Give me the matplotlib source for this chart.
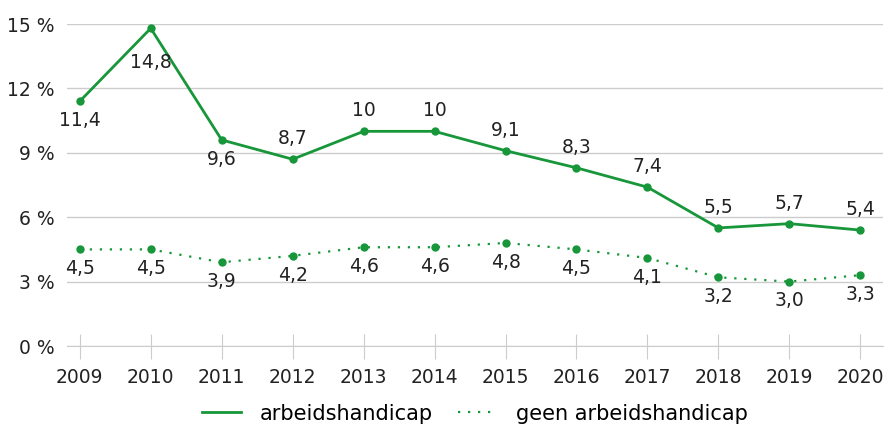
import numpy as np
import matplotlib
matplotlib.use("Agg")
from matplotlib import pyplot as plt

# data
jaren = [2009, 2010, 2011, 2012, 2013, 2014, 2015, 2016, 2017, 2018, 2019, 2020]
met_handicap = [11.4, 14.8, 9.6, 8.7, 10, 10, 9.1, 8.3, 7.4, 5.5, 5.7, 5.4]
geen_handicap = [4.5, 4.5, 3.9, 4.2, 4.6, 4.6, 4.8, 4.5, 4.1, 3.2, 3.0, 3.3]
label_boven = [False, False, False, True, True, True, True, True, True, True, True, True]
y_ticks = [0, 3, 6, 9, 12, 15]

groen = '#17963a'
tekst = '#222222'
fs = 13.5
plt.rcParams['font.family'] = ['DejaVu Sans']

fig = plt.figure(figsize=(8.84, 4.25), dpi=100)
ax = fig.add_axes([67 / 884, 79 / 425, 816 / 884, 322 / 425])

ax.plot(jaren, met_handicap, color=groen, lw=2, marker='o', ms=5,
        label='arbeidshandicap', clip_on=False)
ax.plot(jaren, geen_handicap, color=groen, lw=1.6, ls=(0, (1, 3.5)), marker='o', ms=5,
        label='geen arbeidshandicap', clip_on=False)


def fmt(v):
    s = ('%.1f' % v).replace('.', ',')
    if s.endswith(',0') and v >= 10:
        s = s[:-2]
    return s


for i, (x, y, boven) in enumerate(zip(jaren, met_handicap, label_boven)):
    if boven:
        ax.annotate(fmt(y), (x, y), xytext=(0, 8), textcoords='offset points',
                    ha='center', va='bottom', fontsize=fs, color=tekst)
    else:
        dy = -18 if i == 1 else -7  # 14,8 staat lager, naast de lijn
        ax.annotate(fmt(y), (x, y), xytext=(0, dy), textcoords='offset points',
                    ha='center', va='top', fontsize=fs, color=tekst)

for x, y in zip(jaren, geen_handicap):
    ax.annotate(fmt(y), (x, y), xytext=(0, -7), textcoords='offset points',
                ha='center', va='top', fontsize=fs, color=tekst)

ax.set_xlim(2008.82, 2020.32)
ax.set_ylim(0, 15)
ax.set_yticks(y_ticks)
ax.set_yticklabels(['%d %%' % t for t in y_ticks])
ax.set_xticks(jaren)
ax.set_xticklabels([str(j) for j in jaren])
ax.grid(axis='y', color='#cccccc', lw=1)
ax.set_axisbelow(True)
for s in ['top', 'right', 'left']:
    ax.spines[s].set_visible(False)
ax.spines['bottom'].set_color('#cccccc')
ax.tick_params(axis='y', length=0, labelsize=fs, colors=tekst, pad=9)
ax.tick_params(axis='x', direction='inout', length=18, color='#cccccc', labelsize=fs,
               labelcolor=tekst, pad=7)

ax.legend(loc='center', bbox_to_anchor=(0.5, -0.21), ncol=2, frameon=False,
          fontsize=15, handlelength=1.9, handletextpad=0.9, columnspacing=1.2,
          markerscale=0, borderaxespad=0, borderpad=0)

fig.savefig('out.png', dpi=100)
